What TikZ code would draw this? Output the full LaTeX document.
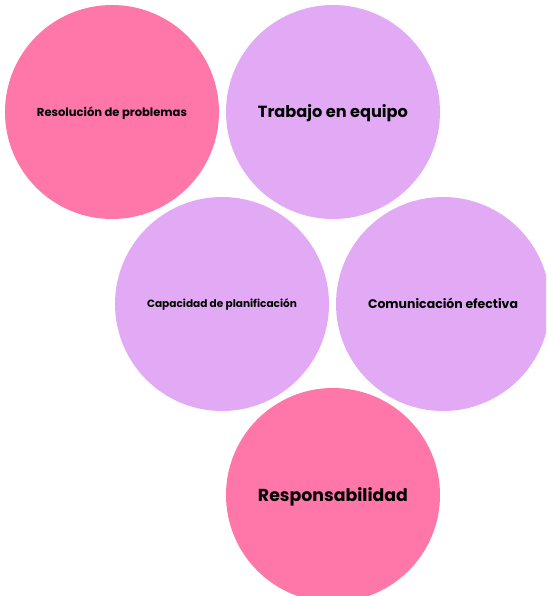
\documentclass[tikz,border=0pt]{standalone}
\usepackage{fontspec}
\setmainfont{Poppins}
\usepackage{graphicx}
\definecolor{pinkc}{HTML}{FF76A9}
\definecolor{lavc}{HTML}{E2AAF4}
\newcommand\bublbl[1]{\resizebox{150pt}{!}{\bfseries\vphantom{T}\smash{#1}}}
\begin{document}
\begin{tikzpicture}[x=1pt,y=-1pt,
  bubble/.style={circle, minimum size=214pt, inner sep=0pt, draw=none, text=black},
  pinkb/.style={bubble, fill=pinkc},
  lavb/.style={bubble, fill=lavc}]
\useasboundingbox (0,0) rectangle (546,596);
\clip (0,0) rectangle (546,596);
\node[pinkb] (res) at (112,112) {\bublbl{Resolución de problemas}};
\node[lavb] (tra) at (333,112) {\bublbl{Trabajo en equipo}};
\node[lavb] (cap) at (222,304) {\bublbl{Capacidad de planificación}};
\node[lavb] (com) at (443,304) {\bublbl{Comunicación efectiva}};
\node[pinkb] (resp) at (333,495) {\bublbl{Responsabilidad}};
\end{tikzpicture}
\end{document}
